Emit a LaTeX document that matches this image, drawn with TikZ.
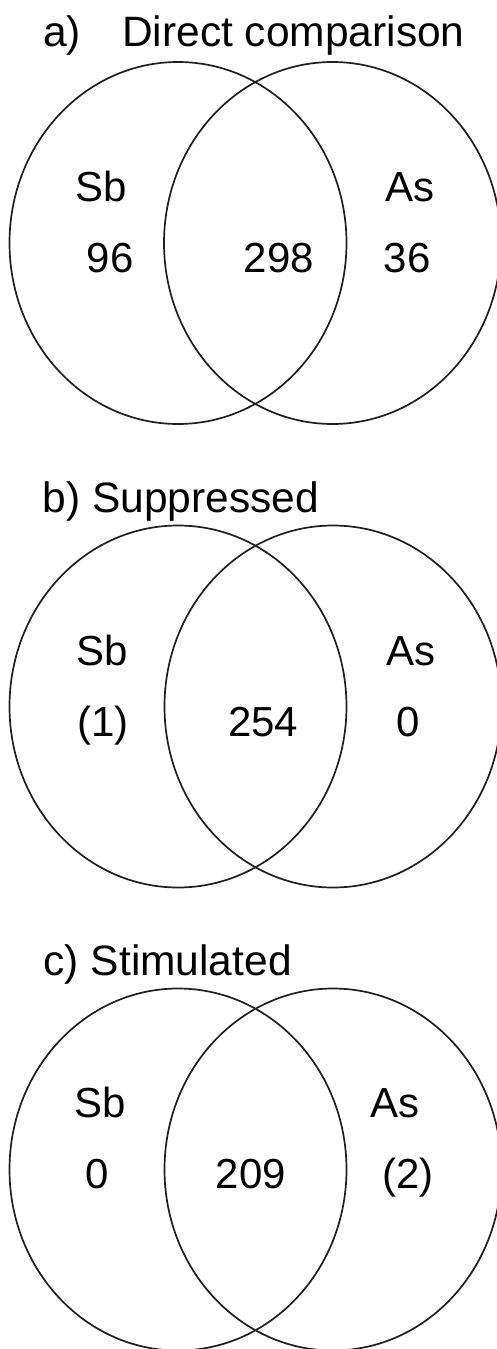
\documentclass[tikz,border=0pt]{standalone}
\usepackage{fontspec}
\setmainfont{Liberation Sans}
\begin{document}
\begin{tikzpicture}[x=1pt,y=-1pt,
  setring/.style={line width=1.7pt, draw=black!88},
  lbl/.style={anchor=base west, inner sep=0pt, font=\fontsize{42}{48}\selectfont},
  ttl/.style={anchor=base west, inner sep=0pt, font=\fontsize{42.5}{48}\selectfont}]
  % page frame
  \useasboundingbox (0,0) rectangle (497,1349);
  \clip (0,0) rectangle (497,1349);

  % a) direct comparison
  \node[ttl] (ta1) at (43,46.7) {a)};
  \node[ttl] (ta2) at (122,46.7) {Direct comparison};
  \draw[setring] (178,243) ellipse [x radius=168.5, y radius=181];
  \draw[setring] (332.5,243) ellipse [x radius=168.5, y radius=181];
  \node[lbl] (aSb)  at (75,201.7)   {Sb};
  \node[lbl] (aAs)  at (385,201.7)  {As};
  \node[lbl] (aL)   at (86.5,272.5) {96};
  \node[lbl] (aM)   at (243.5,272.5){298};
  \node[lbl] (aR)   at (383.5,272.5){36};

  % b) suppressed
  \node[ttl] (tb) at (42.5,512) {b) Suppressed};
  \draw[setring] (178,706.5) ellipse [x radius=168.5, y radius=181];
  \draw[setring] (333,706.5) ellipse [x radius=168.5, y radius=181];
  \node[lbl] (bSb) at (76.5,665)  {Sb};
  \node[lbl] (bAs) at (386,665)   {As};
  \node[lbl] (bL)  at (77,736.7)  {(1)};
  \node[lbl] (bM)  at (228,736.7) {254};
  \node[lbl] (bR)  at (396,736.7) {0};

  % c) stimulated
  \node[ttl] (tc) at (43.5,975) {c) Stimulated};
  \draw[setring] (178,1169.5) ellipse [x radius=168.5, y radius=181];
  \draw[setring] (333,1169.5) ellipse [x radius=168.5, y radius=181];
  \node[lbl] (cSb) at (74,1117)   {Sb};
  \node[lbl] (cAs) at (370,1117)  {As};
  \node[lbl] (cL)  at (85.5,1188) {0};
  \node[lbl] (cM)  at (215.5,1188){209};
  \node[lbl] (cR)  at (382,1188)  {(2)};
\end{tikzpicture}
\end{document}
